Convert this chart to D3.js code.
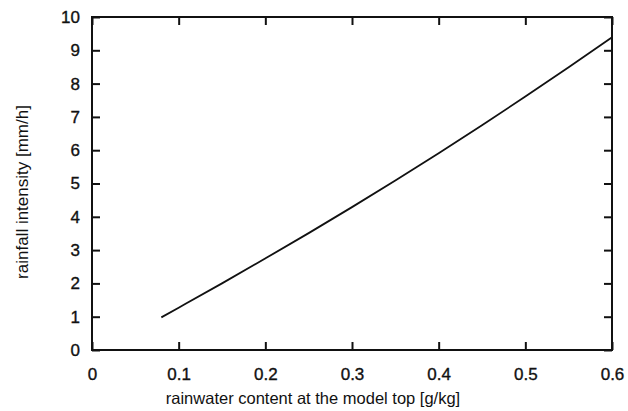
<!DOCTYPE html>
<html>
<head>
<meta charset="utf-8">
<script src="https://cdn.jsdelivr.net/npm/d3@7"></script>
<style>
  html, body { margin: 0; padding: 0; background: #fff; }
  svg text { font-family: "Liberation Sans", Arial, sans-serif; fill: #111; }
</style>
</head>
<body>
<svg id="chart" width="628" height="411"></svg>
<script>
// Rainwater content at the model top [g/kg]
const rainwater = [0.08, 0.10, 0.15, 0.20, 0.25, 0.30, 0.35, 0.40, 0.45, 0.50, 0.55, 0.60];
// Rainfall intensity [mm/h]
const intensity = [0.98, 1.27, 2.0, 2.75, 3.51, 4.29, 5.09, 5.91, 6.75, 7.61, 8.49, 9.39];
const xTicks = [0, 0.1, 0.2, 0.3, 0.4, 0.5, 0.6];
const yTicks = [0, 1, 2, 3, 4, 5, 6, 7, 8, 9, 10];

(function () {
  const svg = d3.select("#chart");
  const m = { left: 92, right: 612, top: 17, bottom: 350 };

  const x = d3.scaleLinear().domain([0, 0.6]).range([m.left, m.right]);
  const y = d3.scaleLinear().domain([0, 10]).range([m.bottom, m.top]);

  const tickLen = 8;
  const fmtX = d => d === 0 ? "0" : d3.format(".1f")(d);

  // Bottom axis: inward ticks, labels below
  const gBottom = svg.append("g").attr("transform", `translate(0,${m.bottom})`)
    .call(d3.axisBottom(x).tickValues(xTicks).tickFormat(fmtX).tickSizeInner(-tickLen).tickSizeOuter(0).tickPadding(18));
  // Left axis: inward ticks, labels left
  const gLeft = svg.append("g").attr("transform", `translate(${m.left},0)`)
    .call(d3.axisLeft(y).tickValues(yTicks).tickFormat(d3.format("d")).tickSizeInner(-tickLen).tickSizeOuter(0).tickPadding(12));
  // Top and right mirrored ticks without labels
  const gTop = svg.append("g").attr("transform", `translate(0,${m.top})`)
    .call(d3.axisTop(x).tickValues(xTicks).tickFormat("").tickSizeInner(-tickLen).tickSizeOuter(0));
  const gRight = svg.append("g").attr("transform", `translate(${m.right},0)`)
    .call(d3.axisRight(y).tickValues(yTicks).tickFormat("").tickSizeInner(-tickLen).tickSizeOuter(0));

  [gBottom, gLeft, gTop, gRight].forEach(g => {
    g.select(".domain").remove();
    g.selectAll(".tick line").attr("stroke", "#111").attr("stroke-width", 2);
    g.selectAll(".tick text")
      .attr("font-size", 17).attr("fill", "#111")
      .attr("stroke", "#111").attr("stroke-width", 0.35);
  });

  // Frame
  svg.append("rect")
    .attr("x", m.left).attr("y", m.top)
    .attr("width", m.right - m.left).attr("height", m.bottom - m.top)
    .attr("fill", "none").attr("stroke", "#111").attr("stroke-width", 2);

  // Curve
  const line = d3.line().x((d, i) => x(rainwater[i])).y(d => y(d)).curve(d3.curveMonotoneX);
  svg.append("path")
    .datum(intensity)
    .attr("d", line)
    .attr("fill", "none")
    .attr("stroke", "#111")
    .attr("stroke-width", 1.8);

  // Axis titles
  svg.append("text")
    .attr("x", 313).attr("y", 404)
    .attr("text-anchor", "middle").attr("font-size", 16.5)
    .text("rainwater content at the model top [g/kg]");
  svg.append("text")
    .attr("transform", `translate(28,192) rotate(-90)`)
    .attr("text-anchor", "middle").attr("font-size", 17)
    .text("rainfall intensity [mm/h]");
})();
</script>
</body>
</html>
